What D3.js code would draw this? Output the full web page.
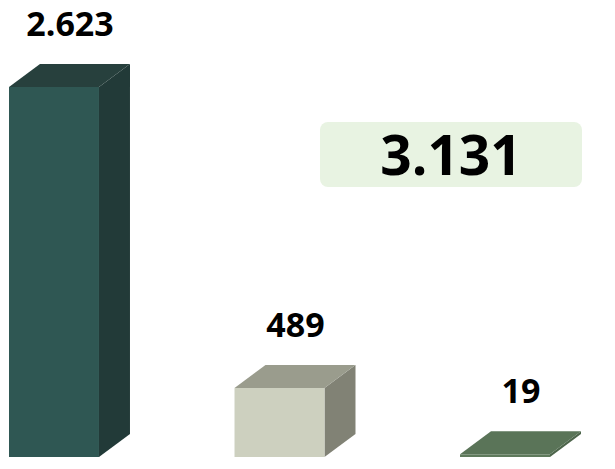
<!DOCTYPE html>
<html><head><meta charset="utf-8">
<script src="https://cdn.jsdelivr.net/npm/d3@7"></script>
<style>html,body{margin:0;padding:0;background:#fff;}svg{display:block;}</style>
</head><body>
<svg id="c" width="615" height="469"></svg>
<script>
const categories = ["A", "B", "C"];
const values = [2623, 489, 19];
const labels = ["2.623", "489", "19"];
const totalLabel = "3.131";
const frontColors = ["#2f5753", "#cdd0bf", "#5f7a5c"];
const topColors = ["#27403d", "#9a9c8d", "#5a7458"];
const sideColors = ["#223a38", "#818275", "#4d654b"];

const svg = d3.select("#c");
const x = d3.scaleBand().domain(categories).range([9, 550]).paddingInner(0.601).paddingOuter(0);
const y = d3.scaleLinear().domain([0, 2623]).range([457, 87]);
const dx = 31, dy = 23;
const font = "'Open Sans', 'Liberation Sans', Arial, sans-serif";

const data = categories.map((c, i) => ({c, v: values[i], l: labels[i], i}));

const g = svg.selectAll("g.bar").data(data).enter().append("g").attr("class", "bar");
g.each(function(d) {
  const s = d3.select(this);
  const x0 = x(d.c), x1 = x0 + x.bandwidth();
  const yt = y(d.v), yb = y(0);
  s.append("path").attr("d", `M${x1},${yt}L${x1+dx},${yt-dy}L${x1+dx},${yb-dy}L${x1},${yb}Z`).attr("fill", sideColors[d.i]);
  s.append("path").attr("d", `M${x0},${yt}L${x0+dx},${yt-dy}L${x1+dx},${yt-dy}L${x1},${yt}Z`).attr("fill", topColors[d.i]);
  s.append("rect").attr("x", x0).attr("y", yt).attr("width", x.bandwidth()).attr("height", Math.max(0, yb - yt)).attr("fill", frontColors[d.i]);
  s.append("text").attr("x", x0 + x.bandwidth()/2 + 16).attr("y", yt - dy - 28)
    .attr("text-anchor", "middle").attr("font-family", font)
    .attr("font-weight", "bold").attr("font-size", 34).attr("fill", "#000").text(d.l);
});

svg.append("rect").attr("x", 320).attr("y", 122).attr("width", 262).attr("height", 65).attr("rx", 8)
  .attr("fill", "#e8f3e2");
svg.append("text").attr("x", 451).attr("y", 175).attr("text-anchor", "middle")
  .attr("font-family", font).attr("font-weight", "bold")
  .attr("font-size", 55).attr("fill", "#000").text(totalLabel);
</script>
</body></html>
